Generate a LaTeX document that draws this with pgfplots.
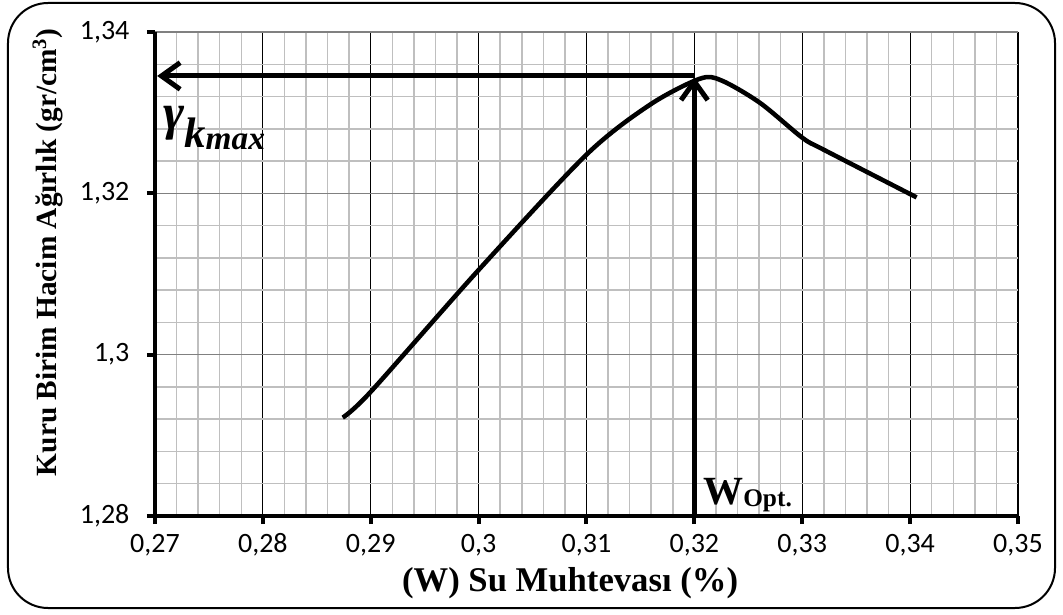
\RequirePackage{fix-cm}
\documentclass[border=0pt]{standalone}
\usepackage{fontspec}
\setmainfont{Liberation Serif}
\newfontfamily\calibri{Carlito}
\usepackage{pgfplots}
\pgfplotsset{compat=1.18}
\usetikzlibrary{arrows.meta}

\begin{document}
\begin{tikzpicture}
\path[use as bounding box] (-116.25pt,-73.5pt) rectangle (681pt,387pt);
\draw[line width=1.5pt, rounded corners=30pt] (-110.25pt,-69pt) rectangle (675pt,384.75pt);
\begin{axis}[
    at={(0,0)}, anchor=south west,
    scale only axis, width=647.25pt, height=363pt,
    xmin=0.27, xmax=0.35, ymin=1.28, ymax=1.34,
    axis lines=left,
    axis line style={-, line width=3pt},
    xtick={0.27,0.28,0.29,0.30,0.31,0.32,0.33,0.34,0.35},
    xticklabels={{0,27},{0,28},{0,29},{0,3},{0,31},{0,32},{0,33},{0,34},{0,35}},
    ytick={1.28,1.30,1.32,1.34},
    yticklabels={{1,28},{1,3},{1,32},{1,34}},
    minor x tick num=4, minor y tick num=4,
    grid=both,
    major x grid style={black, line width=0.9pt},
    major y grid style={black!50, line width=1.1pt},
    minor grid style={black!25, line width=1.1pt},
    tick align=outside,
    major tick length=6pt, minor tick length=0pt,
    tick style={black, line width=3pt},
    xticklabel style={font=\calibri\fontsize{21}{24}\selectfont, text height=13.5pt, text depth=0pt, anchor=north, yshift=-4pt},
    yticklabel style={font=\calibri\fontsize{21}{24}\selectfont, anchor=east, inner xsep=13pt},
    xlabel={(W) Su Muhtevası (\%)},
    ylabel={Kuru Birim Hacim Ağırlık (gr/cm\textsuperscript{3})},
    xlabel style={font=\bfseries\fontsize{26}{28}\selectfont, at={(axis description cs:0.481,-0.138)}, anchor=center},
    ylabel style={font=\bfseries\fontsize{22}{24}\selectfont, at={(axis description cs:-0.124,0.545)}, anchor=center},
    clip=false,
]
% compaction curve
\addplot[black, line width=3.4pt, smooth, tension=0.5] coordinates {
    (0.2874,1.2922) (0.2900,1.2954) (0.3000,1.3105) (0.3100,1.3248)
    (0.3159,1.3310) (0.3205,1.3342) (0.3225,1.3340) (0.3261,1.3312)
    (0.3300,1.3269) (0.3320,1.3254) (0.3406,1.3195)
};
% max dry density / optimum water content arrows
\addplot[black, line width=3.75pt, -{Straight Barb[length=14pt,width=20pt]}] coordinates {(0.3201,1.33455) (0.2702,1.33455)};
\addplot[black, line width=3.75pt, -{Straight Barb[length=14pt,width=20pt]}] coordinates {(0.32,1.28) (0.32,1.3344)};
\node[anchor=base west, inner sep=0pt] at (axis cs:0.27074,1.32786)
    {\bfseries\itshape\fontsize{38}{40}\selectfont γ\raisebox{-13.5pt}{\fontsize{32}{34}\selectfont k\raisebox{-1.5pt}{\fontsize{25}{28}\selectfont max}}};
\node[anchor=base west, inner sep=0pt] at (axis cs:0.3208,1.2814)
    {\bfseries\fontsize{30}{32}\selectfont W\raisebox{-1.5pt}{\fontsize{19}{21}\selectfont Opt.}};
\end{axis}
\end{tikzpicture}
\end{document}
